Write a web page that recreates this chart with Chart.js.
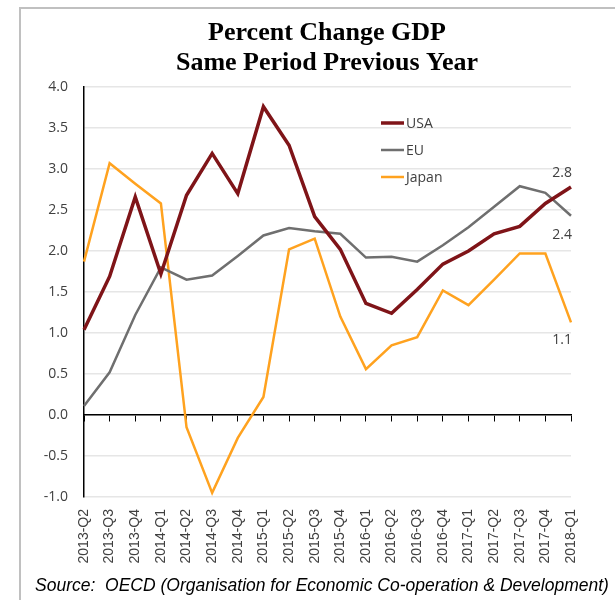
<!DOCTYPE html>
<html>
<head>
<meta charset="utf-8">
<script src="https://cdn.jsdelivr.net/npm/chart.js@4.4.1/dist/chart.umd.min.js"></script>
<style>
html,body{margin:0;padding:0;background:#fff}
#wrap{position:relative;width:615px;height:600px}
#frame{position:absolute;left:19px;top:7px;right:0;bottom:0;border-left:2px solid #c0c0c0;border-top:2px solid #c0c0c0}
canvas{position:absolute;left:0;top:0}
</style>
</head>
<body>
<div id="wrap"><div id="frame"></div><canvas id="gdp" width="615" height="600"></canvas></div>
<script>
// quarters shown on the x axis
const quarters=['2013-Q2','2013-Q3','2013-Q4','2014-Q1','2014-Q2','2014-Q3','2014-Q4','2015-Q1','2015-Q2','2015-Q3',
  '2015-Q4','2016-Q1','2016-Q2','2016-Q3','2016-Q4','2017-Q1','2017-Q2','2017-Q3','2017-Q4','2018-Q1']
const usa=[1.04,1.69,2.66,1.72,2.68,3.19,2.70,3.76,3.29,2.42,2.02,1.36,1.24,1.53,1.84,2.00,2.21,2.30,2.58,2.78]
const eu=[0.11,0.52,1.22,1.80,1.65,1.70,1.94,2.19,2.28,2.24,2.21,1.92,1.93,1.87,2.07,2.29,2.54,2.79,2.71,2.43]
const japan=[1.87,3.07,2.82,2.58,-0.15,-0.95,-0.28,0.22,2.02,2.15,1.20,0.56,0.85,0.95,1.52,1.34,1.65,1.97,1.97,1.13]
const endLabels=['2.8','2.4','1.1']

const txtGray='#404040'
const sansFont='"Open Sans", "DejaVu Sans", sans-serif'

// legend, end-of-line values and the source line are drawn by hand
const extrasPlugin={id:'extras',afterDraw(chart){
  const ctx=chart.ctx
  const xs=chart.scales.x
  ctx.save()
  ctx.font='14px '+sansFont
  ctx.fillStyle=txtGray
  ctx.textBaseline='middle'
  chart.data.datasets.forEach((ds,i)=>{
    const y=123+i*27
    ctx.strokeStyle=ds.borderColor
    ctx.lineWidth=ds.borderWidth
    ctx.beginPath();ctx.moveTo(381,y);ctx.lineTo(404,y);ctx.stroke()
    ctx.fillText(ds.label,406,y+1)
  })
  // value labels at the last quarter
  const last=quarters.length-1
  const px=xs.getPixelForValue(last)+1
  ctx.font='14px '+sansFont
  ctx.textAlign='right'
  const offs=[-14,19,18]
  chart.data.datasets.forEach((ds,i)=>{
    const py=chart.getDatasetMeta(i).data[last].y
    ctx.fillText(endLabels[i],px,py+offs[i])
  })
  ctx.textAlign='left'
  ctx.font='italic 17.5px "Liberation Sans", Arial, sans-serif'
  ctx.fillStyle='#000'
  ctx.fillText('Source:  OECD (Organisation for Economic Co-operation & Development)',35,586)
  ctx.restore()
}}

new Chart(document.getElementById('gdp'),{
  type:'line',
  data:{labels:quarters,datasets:[
    {label:'USA',data:usa,borderColor:'#7f1418',borderWidth:3.5,pointRadius:0,tension:0},
    {label:'EU',data:eu,borderColor:'#6f6f6f',borderWidth:2.5,pointRadius:0,tension:0},
    {label:'Japan',data:japan,borderColor:'#ffa21f',borderWidth:2.5,pointRadius:0,tension:0}
  ]},
  options:{
    responsive:false,animation:false,
    layout:{padding:{left:39,right:0,top:0,bottom:30}},
    plugins:{
      legend:{display:false},tooltip:{enabled:false},
      title:{display:true,text:['Percent Change GDP','Same Period Previous Year'],color:'#000',
        font:{family:'"Liberation Serif", "DejaVu Serif", serif',size:26,weight:'bold',lineHeight:1.154},
        padding:{top:18,bottom:9}}
    },
    scales:{
      x:{type:'category',offset:false,
        grid:{display:false},border:{display:false},
        ticks:{color:txtGray,font:{family:'"Liberation Sans", Arial, sans-serif',size:14},maxRotation:90,minRotation:90,autoSkip:false,padding:4},
        afterFit(s){s.height=73}},
      x0:{type:'category',position:{y:0},offset:false,
        grid:{drawOnChartArea:false,drawTicks:true,tickLength:6,color:'#000'},
        border:{display:true,color:'#000',width:1.5},
        ticks:{display:false}},
      y:{min:-1,max:4,
        ticks:{stepSize:0.5,color:txtGray,font:{family:sansFont,size:14},padding:16,callback:v=>v.toFixed(1)},
        grid:{color:'#e6e6e6',lineWidth:1.5,drawTicks:false},
        border:{display:true,color:'#000',width:1.5},
        afterFit(s){s.width=45}},
      yRight:{position:'right',display:true,min:-1,max:4,
        grid:{display:false},border:{display:false},ticks:{display:false},
        afterFit(s){s.width=44}}
    }
  },
  plugins:[extrasPlugin]
})
</script>
</body>
</html>
